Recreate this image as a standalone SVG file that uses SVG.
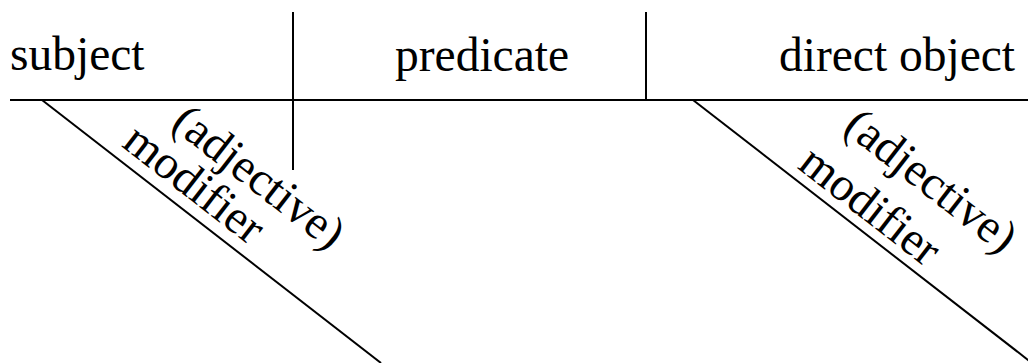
<svg xmlns="http://www.w3.org/2000/svg" width="1028" height="363" viewBox="0 0 1028 363">
<style>
  .ln { stroke: #000; stroke-width: 2; fill: none; }
  .t { font-family: "Liberation Serif", "Times New Roman", serif; font-size: 47.5px; fill: #000; }
</style>
<rect width="1028" height="363" fill="#fff"/>
<g id="connectors">
  <line class="ln" x1="10" y1="100" x2="1028" y2="100"/>
  <line class="ln" x1="293" y1="12" x2="293" y2="170"/>
  <line class="ln" x1="646" y1="12" x2="646" y2="100"/>
  <line class="ln" x1="42" y1="100" x2="381" y2="363"/>
  <line class="ln" x1="693" y1="100" x2="1032" y2="363"/>
</g>
<g id="subject"><text class="t" x="10" y="70">subject</text></g>
<g id="predicate"><text class="t" x="395" y="71">predicate</text></g>
<g id="direct-object"><text class="t" x="779" y="71">direct object</text></g>
<g id="modifier1" transform="translate(42,100) rotate(37.8)">
  <text class="t" x="117" y="-57">(adjective)</text>
  <text class="t" x="90" y="-12">modifier</text>
</g>
<g id="modifier2" transform="translate(693,100) rotate(37.8)">
  <text class="t" x="136" y="-67">(adjective)</text>
  <text class="t" x="123" y="-10">modifier</text>
</g>
</svg>
